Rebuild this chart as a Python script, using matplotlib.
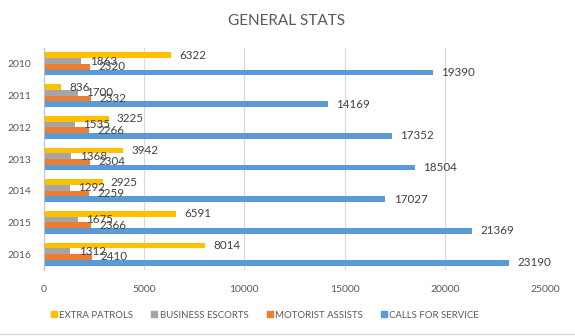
import matplotlib.pyplot as plt
from matplotlib.lines import Line2D
import numpy as np

plt.rcParams['font.family'] = ['Lato', 'DejaVu Sans']

# yearly counts per activity
years = ['2010', '2011', '2012', '2013', '2014', '2015', '2016']
extra_patrols = [6322, 836, 3225, 3942, 2925, 6591, 8014]
business_escorts = [1863, 1700, 1535, 1368, 1292, 1675, 1312]
motorist_assists = [2320, 2332, 2266, 2304, 2259, 2366, 2410]
calls_for_service = [19390, 14169, 17352, 18504, 17027, 21369, 23190]

series = [
    ('EXTRA PATROLS', extra_patrols, '#FFC000'),
    ('BUSINESS ESCORTS', business_escorts, '#A5A5A5'),
    ('MOTORIST ASSISTS', motorist_assists, '#ED7D31'),
    ('CALLS FOR SERVICE', calls_for_service, '#5B9BD5'),
]

txt = '#595959'
fig = plt.figure(figsize=(5.75, 3.36), dpi=100)
ax = fig.add_axes([44/575, 1-270/336, 501/575, 222/336])

y = np.arange(len(years))
h = 0.18
for k, (name, vals, col) in enumerate(series):
    pos = y + (k - 1.5) * h
    ax.barh(pos, vals, height=h, color=col, zorder=2)
    for p, v in zip(pos, vals):
        ax.annotate(str(v), (v, p), xytext=(6, 0), textcoords='offset points',
                    va='center', ha='left', fontsize=8.4, color='#404040', zorder=3)

ax.set_xlim(0, 25000)
ax.set_ylim(len(years) - 0.5, -0.5)
ax.set_yticks(y)
ax.set_yticklabels(years)
ax.set_xticks(range(0, 25001, 5000))
ax.tick_params(length=0, colors=txt, labelsize=7.5, pad=9)
ax.tick_params(axis='x', pad=11)
ax.grid(axis='x', color='#D9D9D9', linewidth=0.8, zorder=0)
for s in ['top', 'right', 'bottom']:
    ax.spines[s].set_visible(False)
ax.spines['left'].set_color('#BFBFBF')
ax.spines['left'].set_linewidth(0.8)
ax.spines['left'].set_zorder(4)

fig.text(287/575, 1-21/336, 'GENERAL STATS', ha='center', va='center',
         fontsize=11, color=txt)

handles = [Line2D([], [], marker='s', linestyle='none', markersize=5,
                  markerfacecolor=c, markeredgecolor=c) for _, _, c in series]
fig.legend(handles, [s[0] for s in series], loc='center', ncol=4,
           bbox_to_anchor=(264/575, 1-315/336), frameon=False, fontsize=6.9,
           labelcolor=txt, handletextpad=0.05, columnspacing=1.7,
           handlelength=1.0)

fig.add_artist(Line2D([0, 1], [1-334/336, 1-334/336], color='#D9D9D9',
                      linewidth=1, transform=fig.transFigure))

fig.savefig('out.png', dpi=100)
